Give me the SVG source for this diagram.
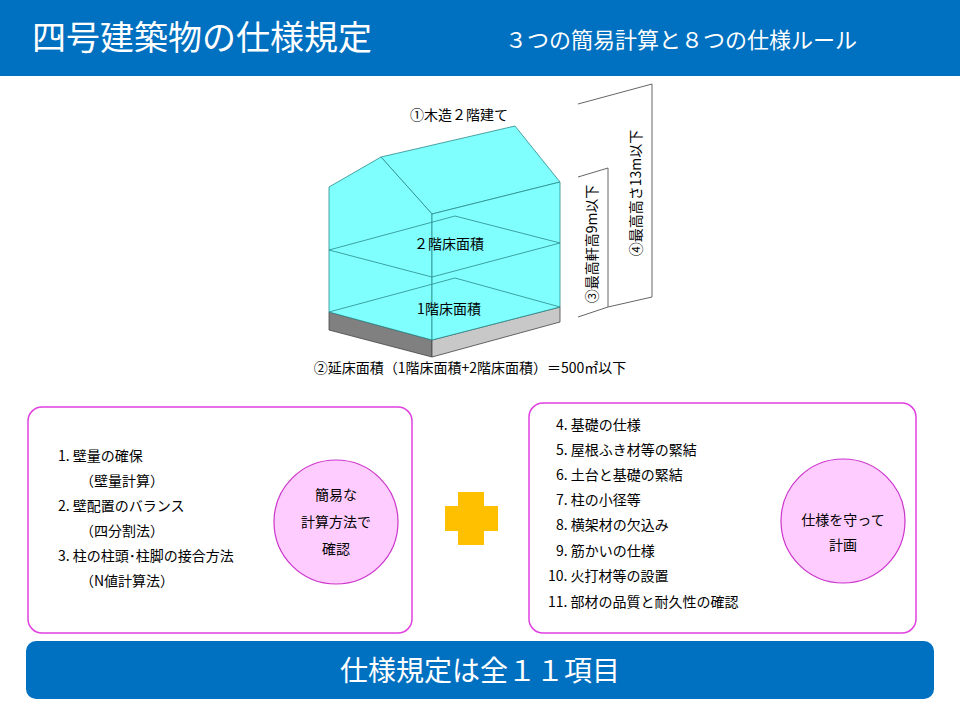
<svg xmlns="http://www.w3.org/2000/svg" width="960" height="720" viewBox="0 0 960 720">
<style>
text{font-family:"Noto Sans CJK JP","Noto Sans",sans-serif;fill:#000}
.w{fill:#fff}
.t{font-size:14px}
.box{fill:#fff;stroke:#e040e0;stroke-width:1.5}
.circ{fill:#ffccff;stroke:#cc33cc;stroke-width:1.2}
.cy{fill:#80ffff;stroke:#2a8a8a;stroke-width:0.8}
.ln{fill:none;stroke:#2a8a8a;stroke-width:0.8}
.dim{fill:none;stroke:#666;stroke-width:1}
</style>
<rect x="0" y="0" width="960" height="76" fill="#0070c0"/>
<text class="w" x="32" y="50" font-size="34">四号建築物の仕様規定</text>
<text class="w" x="505" y="48" font-size="22">３つの簡易計算と８つの仕様ルール</text>

<g id="house">
<polygon points="329,312 432,340 432,357 329,330" fill="#808080" stroke="#444" stroke-width="0.8"/>
<polygon points="432,340 560,307 560,322 432,357" fill="#c8c8c8" stroke="#444" stroke-width="0.8"/>
<polygon class="cy" points="381,157 515,126 560,182 432,214"/>
<polygon class="cy" points="329,187 381,157 432,214 432,340 329,312"/>
<polygon class="cy" points="432,214 560,182 560,307 432,340"/>
<polygon class="ln" points="329,250 455,216 560,243 432,277"/>
<polyline class="ln" points="329,312 455,278 560,307"/>
<text x="449" y="249" font-size="14" text-anchor="middle">２階床面積</text>
<text x="449" y="314" font-size="14" text-anchor="middle">1階床面積</text>
<text x="459" y="120" font-size="14" text-anchor="middle">①木造２階建て</text>
<polyline class="dim" points="578,177 608,168 608,307 578,317"/>
<polyline class="dim" points="578,104 652,84 652,297 608,307"/>
<text transform="translate(597,244) rotate(-90)" font-size="14" text-anchor="middle">③最高軒高9m以下</text>
<text transform="translate(641,193) rotate(-90)" font-size="14" text-anchor="middle">④最高高さ13m以下</text>
<text x="470" y="373" font-size="14" text-anchor="middle">②延床面積（1階床面積+2階床面積）＝500㎡以下</text>
</g>

<g id="left-panel">
<rect class="box" x="28" y="407" width="384" height="226" rx="14"/>
<text class="t" x="58" y="461">1. 壁量の確保</text>
<text class="t" x="80" y="486">（壁量計算）</text>
<text class="t" x="58" y="511">2. 壁配置のバランス</text>
<text class="t" x="80" y="536">（四分割法）</text>
<text class="t" x="58" y="561">3. 柱の柱頭･柱脚の接合方法</text>
<text class="t" x="80" y="586">（N値計算法）</text>
<circle class="circ" cx="336" cy="522" r="62"/>
<text class="t" x="336" y="500" text-anchor="middle">簡易な</text>
<text class="t" x="336" y="527" text-anchor="middle">計算方法で</text>
<text class="t" x="336" y="554" text-anchor="middle">確認</text>
</g>

<g id="plus">
<path d="M458,492H484V506H498V531H484V545H458V531H445V506H458Z" fill="#ffc000"/>
</g>

<g id="right-panel">
<rect class="box" x="529" y="403" width="387" height="230" rx="14"/>
<text class="t" x="556" y="430">4. 基礎の仕様</text>
<text class="t" x="556" y="455">5. 屋根ふき材等の緊結</text>
<text class="t" x="556" y="480">6. 土台と基礎の緊結</text>
<text class="t" x="556" y="505">7. 柱の小径等</text>
<text class="t" x="556" y="530">8. 横架材の欠込み</text>
<text class="t" x="556" y="556">9. 筋かいの仕様</text>
<text class="t" x="548" y="581">10. 火打材等の設置</text>
<text class="t" x="548" y="607">11. 部材の品質と耐久性の確認</text>
<circle class="circ" cx="843" cy="521" r="62"/>
<text class="t" x="843" y="525" text-anchor="middle">仕様を守って</text>
<text class="t" x="843" y="550" text-anchor="middle">計画</text>
</g>

<g id="footer">
<rect x="26" y="641" width="908" height="58" rx="10" fill="#0070c0"/>
<text class="w" x="480" y="681" font-size="28" text-anchor="middle">仕様規定は全１１項目</text>
</g>
</svg>
